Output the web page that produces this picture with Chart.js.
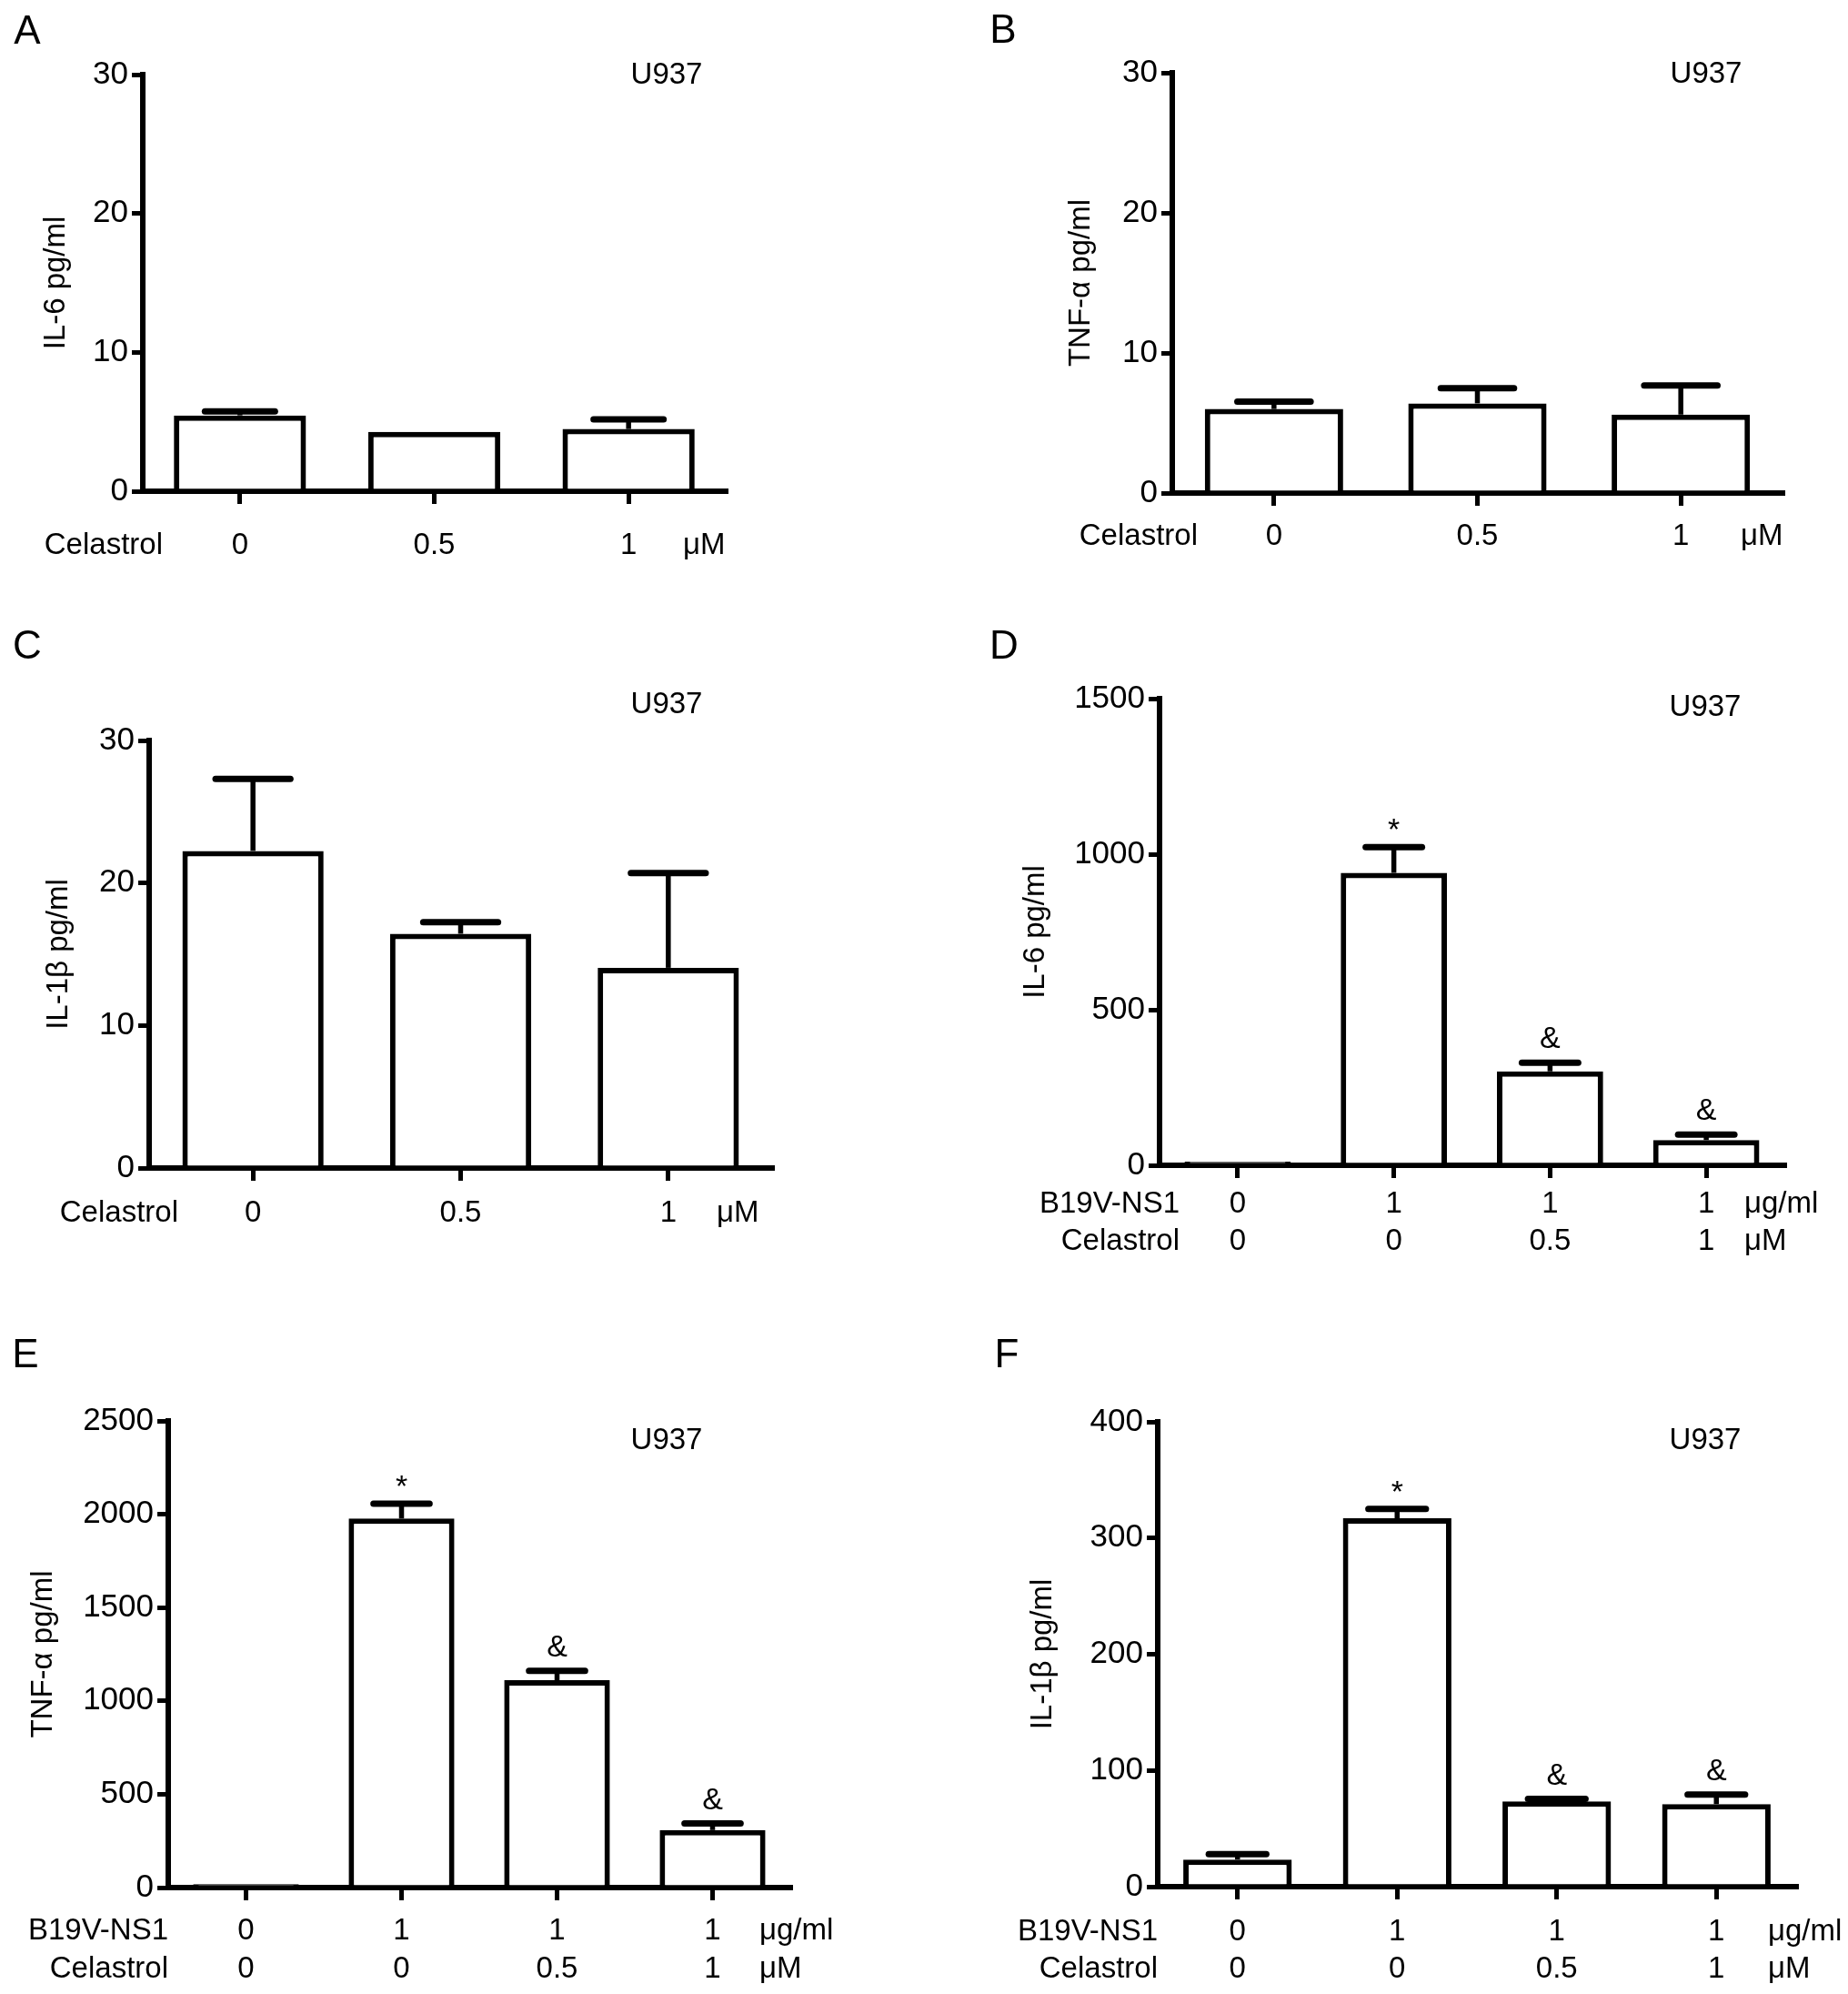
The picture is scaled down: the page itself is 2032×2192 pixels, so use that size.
<!DOCTYPE html>
<html>
<head>
<meta charset="utf-8">
<script src="https://cdn.jsdelivr.net/npm/chart.js@4.4.1/dist/chart.umd.min.js"></script>
<style>
  html, body { margin: 0; padding: 0; background: #fff; overflow: hidden; }
  #page { position: relative; width: 2032px; height: 2192px; }
  #page canvas { position: absolute; left: 0; top: 0; }
</style>
</head>
<body>
<div id="page">
  <canvas id="chartA" width="2032" height="2192"></canvas>
  <canvas id="chartB" width="2032" height="2192"></canvas>
  <canvas id="chartC" width="2032" height="2192"></canvas>
  <canvas id="chartD" width="2032" height="2192"></canvas>
  <canvas id="chartE" width="2032" height="2192"></canvas>
  <canvas id="chartF" width="2032" height="2192"></canvas>
</div>
<script>
// categories (doses)
const celastrolDose = ['0', '0.5', '1'];
const ns1Dose = ['0', '1', '1', '1'];
const celastrolDose4 = ['0', '0', '0.5', '1'];

// means and upper error (pg/ml)
const il6Basal = [5.46, 4.27, 4.48];
const il6BasalErr = [0.29, 0, 0.7];
const tnfBasal = [6.0, 6.4, 5.6];
const tnfBasalErr = [0.52, 1.08, 2.08];
const il1bBasal = [22.25, 16.44, 14.05];
const il1bBasalErr = [5.05, 0.81, 6.65];
const il6Ns1 = [12, 940, 302, 81];
const il6Ns1Err = [0, 83, 28, 18];
const tnfNs1 = [18, 1977, 1111, 308];
const tnfNs1Err = [0, 80, 50, 36];
const il1bNs1 = [23.3, 317, 73.3, 71];
const il1bNs1Err = [4.7, 8, 2.3, 8.3];
const basalMarks = ['', '', ''];
const ns1Marks = ['', '*', '&', '&'];

// y tick labels
const yTicksBasal = [0, 10, 20, 30];
const yTicksIl6 = [0, 500, 1000, 1500];
const yTicksTnf = [0, 500, 1000, 1500, 2000, 2500];
const yTicksIl1b = [0, 100, 200, 300, 400];

const PAGE_W = 2032, PAGE_H = 2192;
const FONT = '"Liberation Sans", Arial, Helvetica, sans-serif';
Chart.defaults.font.family = FONT;
Chart.defaults.color = '#000';

const twoRows = (a, b) => a.map((v, i) => [v, b[i]]);

const panels = [
  { id: 'chartA', letter: 'A', letterPos: [30, 36], cellPos: [733, 83],
    area: { left: 157, right: 798, top: 82, bottom: 540 }, titleX: 62,
    tickPad: 26, lineH: 40, headerRight: 179, unitsLeft: 751,
    labels: celastrolDose, values: il6Basal, errors: il6BasalErr, marks: basalMarks,
    yTicks: yTicksBasal, yTitle: 'IL-6 pg/ml', headers: ['Celastrol'], units: ['μM'] },
  { id: 'chartB', letter: 'B', letterPos: [1103, 35], cellPos: [1876, 82],
    area: { left: 1289, right: 1960, top: 80, bottom: 542 }, titleX: 1189,
    tickPad: 14, lineH: 40, headerRight: 1317, unitsLeft: 1914,
    labels: celastrolDose, values: tnfBasal, errors: tnfBasalErr, marks: basalMarks,
    yTicks: yTicksBasal, yTitle: 'TNF-α pg/ml', headers: ['Celastrol'], units: ['μM'] },
  { id: 'chartC', letter: 'C', letterPos: [30, 712], cellPos: [733, 775],
    area: { left: 164, right: 849, top: 814, bottom: 1284 }, titleX: 65,
    tickPad: 16, lineH: 40, headerRight: 196, unitsLeft: 788,
    labels: celastrolDose, values: il1bBasal, errors: il1bBasalErr, marks: basalMarks,
    yTicks: yTicksBasal, yTitle: 'IL-1β pg/ml', headers: ['Celastrol'], units: ['μM'] },
  { id: 'chartD', letter: 'D', letterPos: [1104, 712], cellPos: [1875, 778],
    area: { left: 1275, right: 1962, top: 768, bottom: 1281 }, titleX: 1139,
    tickPad: 8, lineH: 41, headerRight: 1297, unitsLeft: 1918,
    labels: twoRows(ns1Dose, celastrolDose4), values: il6Ns1, errors: il6Ns1Err, marks: ns1Marks,
    yTicks: yTicksIl6, yTitle: 'IL-6 pg/ml', headers: ['B19V-NS1', 'Celastrol'], units: ['μg/ml', 'μM'] },
  { id: 'chartE', letter: 'E', letterPos: [28, 1491], cellPos: [733, 1584],
    area: { left: 185, right: 869, top: 1562, bottom: 2075 }, titleX: 48,
    tickPad: 13, lineH: 42, headerRight: 185, unitsLeft: 835,
    labels: twoRows(ns1Dose, celastrolDose4), values: tnfNs1, errors: tnfNs1Err, marks: ns1Marks,
    yTicks: yTicksTnf, yTitle: 'TNF-α pg/ml', headers: ['B19V-NS1', 'Celastrol'], units: ['μg/ml', 'μM'] },
  { id: 'chartF', letter: 'F', letterPos: [1107, 1491], cellPos: [1875, 1584],
    area: { left: 1273, right: 1975, top: 1563, bottom: 2074 }, titleX: 1147,
    tickPad: 15, lineH: 41, headerRight: 1273, unitsLeft: 1944,
    labels: twoRows(ns1Dose, celastrolDose4), values: il1bNs1, errors: il1bNs1Err, marks: ns1Marks,
    yTicks: yTicksIl1b, yTitle: 'IL-1β pg/ml', headers: ['B19V-NS1', 'Celastrol'], units: ['μg/ml', 'μM'] }
];

// upper error bars plus significance marks
const errorBars = {
  id: 'errorBars',
  afterDatasetsDraw(chart) {
    const ds = chart.data.datasets[0];
    const meta = chart.getDatasetMeta(0);
    const y = chart.scales.y;
    const ctx = chart.ctx;
    ctx.save();
    ctx.strokeStyle = '#000';
    ctx.fillStyle = '#000';
    ctx.font = '34px ' + FONT;
    ctx.textAlign = 'center';
    ctx.textBaseline = 'alphabetic';
    meta.data.forEach((bar, i) => {
      const top = y.getPixelForValue(ds.data[i] + ds.errors[i]);
      if (ds.errors[i] > 0) {
        ctx.lineWidth = 5.5;
        ctx.beginPath();
        ctx.moveTo(bar.x, bar.y);
        ctx.lineTo(bar.x, top);
        ctx.stroke();
        const half = bar.width * 0.53 / 2;
        ctx.lineWidth = 7;
        ctx.lineCap = 'round';
        ctx.beginPath();
        ctx.moveTo(bar.x - half, top);
        ctx.lineTo(bar.x + half, top);
        ctx.stroke();
        ctx.lineCap = 'butt';
      }
      const mark = ds.marks[i];
      if (mark) {
        const lift = mark === '*' ? 0.58 : 0.36;
        ctx.fillText(mark, bar.x, top - 28 + lift * 34);
      }
    });
    ctx.restore();
  }
};

// panel letter, cell line, row headers and units
const panelDecor = {
  id: 'panelDecor',
  afterDraw(chart) {
    const p = chart.options.plugins.panelDecor;
    const x = chart.scales.x;
    const ctx = chart.ctx;
    ctx.save();
    ctx.fillStyle = '#000';
    ctx.textBaseline = 'middle';
    ctx.textAlign = 'center';
    ctx.font = '44px ' + FONT;
    ctx.fillText(p.letter, p.letterPos[0], p.letterPos[1]);
    ctx.font = '33px ' + FONT;
    ctx.fillText('U937', p.cellPos[0], p.cellPos[1]);
    p.headers.forEach((h, i) => {
      const yy = x.top + 14 + p.tickPad + p.lineH * (i + 0.5);
      ctx.textAlign = 'right';
      ctx.fillText(h, p.headerRight, yy);
      ctx.textAlign = 'left';
      ctx.fillText(p.units[i], p.unitsLeft, yy);
    });
    ctx.restore();
  }
};

function buildPanel(p) {
  const titleLH = 33 * 1.2;
  const yWidth = p.area.left - (p.titleX - titleLH / 2);
  const xHeight = 100;
  return new Chart(document.getElementById(p.id), {
    type: 'bar',
    data: {
      labels: p.labels,
      datasets: [{
        data: p.values,
        errors: p.errors,
        marks: p.marks,
        backgroundColor: '#fff',
        borderColor: '#000',
        borderWidth: 6,
        barPercentage: 0.68,
        categoryPercentage: 1
      }]
    },
    options: {
      responsive: false,
      animation: false,
      devicePixelRatio: 1,
      layout: {
        padding: {
          left: p.titleX - titleLH / 2,
          top: p.area.top,
          right: PAGE_W - p.area.right,
          bottom: PAGE_H - p.area.bottom - xHeight
        }
      },
      plugins: {
        legend: { display: false },
        tooltip: { enabled: false },
        panelDecor: p
      },
      scales: {
        x: {
          type: 'category',
          offset: true,
          z: 1,
          grid: { offset: false, drawOnChartArea: false, drawTicks: true, tickLength: 14, lineWidth: 5, color: '#000' },
          border: { display: true, color: '#000', width: 6 },
          ticks: { color: '#000', font: { size: 33, lineHeight: p.lineH + 'px' }, padding: p.tickPad, maxRotation: 0, autoSkip: false },
          afterFit: s => { s.height = xHeight; }
        },
        y: {
          min: p.yTicks[0],
          max: p.yTicks[p.yTicks.length - 1],
          z: 1,
          afterBuildTicks: s => { s.ticks = p.yTicks.map(v => ({ value: v })); },
          grid: { drawOnChartArea: false, drawTicks: true, tickLength: 12, lineWidth: 5, color: '#000' },
          border: { display: true, color: '#000', width: 6 },
          ticks: { color: '#000', font: { size: 35 }, padding: 4, callback: v => String(v) },
          title: { display: true, text: p.yTitle, color: '#000', font: { size: 33 }, padding: 0 },
          afterFit: s => { s.width = yWidth; }
        }
      }
    },
    plugins: [errorBars, panelDecor]
  });
}

panels.forEach(buildPanel);
</script>
</body>
</html>
